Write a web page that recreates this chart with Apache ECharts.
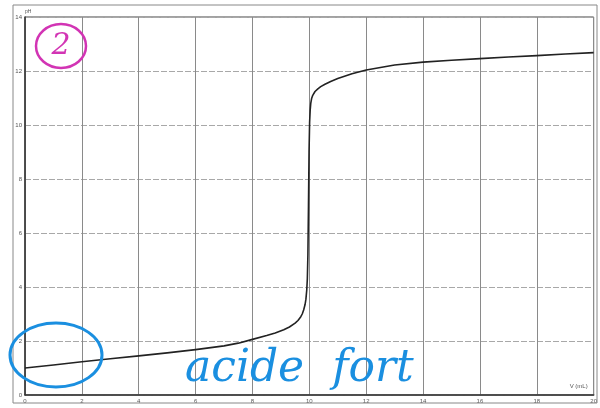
<!DOCTYPE html>
<html>
<head>
<meta charset="utf-8">
<script src="https://cdn.jsdelivr.net/npm/echarts@6/dist/echarts.min.js"></script>
<style>
  html, body { margin: 0; padding: 0; background: #fff; }
  #chart { width: 600px; height: 408px; }
</style>
</head>
<body>
<div id="chart"></div>
<script>
// volume versé (mL) et pH
const volumes = [0, 1, 2, 3, 4, 5, 6, 7, 7.5, 8, 8.5, 8.8, 9.1, 9.3, 9.5, 9.6, 9.7, 9.75, 9.8, 9.85, 9.88, 9.91, 9.93, 9.95, 9.97, 9.99, 10.01, 10.03, 10.05, 10.08, 10.12, 10.2, 10.3, 10.4, 10.55, 10.75, 11, 11.5, 12, 13, 14, 15, 16, 17, 18, 19, 20]
const phValues = [1.0, 1.11, 1.23, 1.34, 1.45, 1.56, 1.68, 1.82, 1.92, 2.06, 2.2, 2.3, 2.42, 2.52, 2.66, 2.76, 2.9, 3.0, 3.15, 3.35, 3.55, 3.9, 4.3, 5.2, 7.0, 9.0, 10.1, 10.55, 10.8, 10.98, 11.1, 11.24, 11.34, 11.42, 11.51, 11.61, 11.72, 11.9, 12.04, 12.22, 12.33, 12.4, 12.46, 12.52, 12.57, 12.63, 12.68]
const xTicks = [0, 2, 4, 6, 8, 10, 12, 14, 16, 18, 20]
const yTicks = [0, 2, 4, 6, 8, 10, 12, 14]

const myChart = echarts.init(document.getElementById('chart'))

const option = {
  backgroundColor: '#fff',
  animation: false,
  grid: {
    left: 25, right: 6, top: 17, bottom: 13,
    show: true,
    borderColor: '#444',
    borderWidth: 1
  },
  xAxis: {
    type: 'value',
    min: xTicks[0],
    max: xTicks[xTicks.length - 1],
    interval: 2,
    name: 'V (mL)',
    nameLocation: 'end',
    nameGap: 0,
    nameTextStyle: { fontSize: 6, color: '#555', align: 'right', verticalAlign: 'bottom', padding: [0, 6, 6, 0] },
    axisLine: { lineStyle: { color: '#333', width: 1.5 } },
    axisTick: { show: false },
    axisLabel: { fontSize: 6, color: '#555', margin: 3 },
    splitLine: { lineStyle: { color: '#8a8a8a', width: 1 } }
  },
  yAxis: {
    type: 'value',
    min: yTicks[0],
    max: yTicks[yTicks.length - 1],
    interval: 2,
    name: 'pH',
    nameLocation: 'end',
    nameGap: 0,
    nameTextStyle: { fontSize: 5, color: '#555', align: 'left', padding: [0, 0, -2, 0] },
    axisLine: { show: true, lineStyle: { color: '#333', width: 1.5 } },
    axisTick: { show: false },
    axisLabel: { fontSize: 6, color: '#555', margin: 3 },
    splitLine: { lineStyle: { color: '#a8a8a8', width: 1, type: [6, 2] } }
  },
  series: [{
    type: 'line',
    data: volumes.map((v, i) => [v, phValues[i]]),
    showSymbol: false,
    smooth: false,
    lineStyle: { color: '#222', width: 1.6, join: 'round' },
    z: 3
  }],
  graphic: [
    // cadre de la feuille scannée
    { type: 'rect', shape: { x: 13, y: 5, width: 584, height: 398 }, style: { fill: 'none', stroke: '#888', lineWidth: 1 }, z: 1 },
    // annotations manuscrites
    { type: 'ellipse', shape: { cx: 61, cy: 46, rx: 25, ry: 22 }, style: { fill: 'none', stroke: '#d234b4', lineWidth: 2.5 }, z: 10 },
    { type: 'text', style: { x: 61, y: 46, text: '2', fill: '#d234b4', font: 'italic 30px "DejaVu Serif"', align: 'center', verticalAlign: 'middle' }, z: 10 },
    { type: 'ellipse', shape: { cx: 56, cy: 355, rx: 46, ry: 32 }, style: { fill: 'none', stroke: '#1a8fe0', lineWidth: 3 }, z: 10 },
    { type: 'text', style: { x: 185, y: 392, text: 'acide  fort', fill: '#1a8fe0', font: 'italic 44px "DejaVu Serif"', verticalAlign: 'bottom' }, z: 10 }
  ]
}

myChart.setOption(option)
</script>
</body>
</html>
